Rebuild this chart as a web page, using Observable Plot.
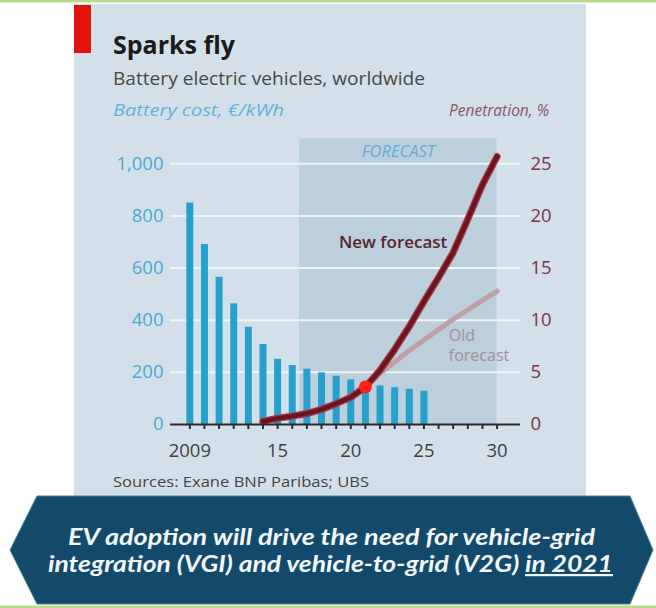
<!DOCTYPE html>
<html><head><meta charset="utf-8">
<script src="https://cdn.jsdelivr.net/npm/d3@7"></script>
<script src="https://cdn.jsdelivr.net/npm/@observablehq/plot@0.6"></script>
<style>
html,body{margin:0;padding:0;background:#fff;}
#page{position:relative;width:656px;height:608px;overflow:hidden;font-family:"Open Sans",sans-serif;}
#deco,#banner{position:absolute;left:0;top:0;}
#chart{position:absolute;left:74px;top:130px;}
</style></head>
<body><div id="page">
<svg id="deco" width="656" height="608" font-family="Open Sans">
  <rect x="0" y="0" width="656" height="2.5" fill="#b9d98f"/>
  <rect x="74" y="4" width="512" height="500" fill="#d3e0e9"/>
  <rect x="74" y="5" width="17" height="48" fill="#e3120b"/>
  <text x="113" y="54.3" font-size="24.5" font-weight="700" fill="#1b1b1b" textLength="122" lengthAdjust="spacingAndGlyphs">Sparks fly</text>
  <text x="113" y="85" font-size="18.5" font-weight="500" fill="#484848" textLength="312" lengthAdjust="spacingAndGlyphs">Battery electric vehicles, worldwide</text>
  <text x="113" y="115.5" font-size="15.5" font-style="italic" fill="#62b1d8" textLength="171" lengthAdjust="spacingAndGlyphs">Battery cost, €/kWh</text>
  <text x="549" y="115.5" font-size="15.5" font-style="italic" fill="#8b5466" text-anchor="end">Penetration, %</text>
  <text x="113" y="487" font-size="14.5" font-weight="500" fill="#444" textLength="256" lengthAdjust="spacingAndGlyphs">Sources: Exane BNP Paribas; UBS</text>
</svg>
<div id="chart"></div>
<svg id="banner" width="656" height="608" font-family="Lato">
  <polygon points="10,550 37,496 630,496 653,550 630,604 37,604" fill="#134a6c" stroke="#4f7d8f" stroke-width="1"/>
  <rect x="0" y="605.5" width="656" height="2.5" fill="#b9d98f"/>
  <text x="331.5" y="545" font-size="22" font-weight="700" font-style="italic" fill="#f3f7fa" text-anchor="middle" textLength="527" lengthAdjust="spacingAndGlyphs">EV adoption will drive the need for vehicle-grid</text>
  <text x="330.5" y="572" font-size="22" font-weight="700" font-style="italic" fill="#f3f7fa" text-anchor="middle" textLength="565" lengthAdjust="spacingAndGlyphs">integration (VGI) and vehicle-to-grid (V2G) <tspan text-decoration="underline">in 2021</tspan></text>
</svg>
</div>
<script>
// Battery cost, €/kWh (bars)
const years = [2009,2010,2011,2012,2013,2014,2015,2016,2017,2018,2019,2020,2021,2022,2023,2024,2025];
const batteryCost = [850,690,565,463,373,307,250,226,212,198,185,171,160,148,141,135,128];
// Penetration, % — new forecast
const newYears = [2014,2015,2016,2017,2018,2019,2020,2021,2022,2023,2024,2025,2026,2027,2028,2029,2030];
const newForecast = [0.3,0.6,0.8,1.05,1.45,2.0,2.6,3.6,5.2,7.2,9.4,11.8,14.1,16.5,19.7,23.0,25.7];
// Penetration, % — old forecast
const oldYears = [2021,2022,2023,2024,2025,2026,2027,2028,2029,2030];
const oldForecast = [3.6,4.9,6.0,7.1,8.1,9.1,10.1,11.0,11.9,12.8];
// Forecast period
const forecastStart = 2016.5, forecastEnd = 2030;
const highlightYear = 2021;
// Ticks
const costTicks = [0,200,400,600,800,1000];
const penTicks = [0,5,10,15,20,25];
const yearTicks = [2009,2010,2011,2012,2013,2014,2015,2016,2017,2018,2019,2020,2021,2022,2023,2024,2025,2026,2027,2028,2029,2030];
const xTickLabels = [2009,2015,2020,2025,2030];

const penToCost = 1000 / 25; // right axis 25% aligns with left axis 1,000

const costData = years.map((year, i) => ({year, cost: batteryCost[i]}));
const newData = newYears.map((year, i) => ({year, pen: newForecast[i]}));
const oldData = oldYears.map((year, i) => ({year, pen: oldForecast[i]}));
const dotData = [{year: highlightYear, pen: newForecast[newYears.indexOf(highlightYear)]}];

const chart = Plot.plot({
  width: 512,
  height: 340,
  marginLeft: 96,
  marginRight: 66,
  marginTop: 33.3,
  marginBottom: 46,
  x: {domain: [2007.68, 2031.6]},
  y: {domain: [0, 1000]},
  style: {background: "transparent", overflow: "visible", fontFamily: "Open Sans"},
  marks: [
    Plot.rect([{start: forecastStart, end: forecastEnd}], {x1: "start", x2: "end", y1: 0, y2: 1000, insetTop: -25, fill: "#bccfdc"}),
    Plot.text(["FORECAST"], {x: (forecastStart + forecastEnd) / 2, y: 1000, dy: -12, text: d => d, fontStyle: "italic", fontSize: 16.5, fill: "#63acd6"}),
    Plot.ruleY(costTicks.filter(d => d > 0), {stroke: "#eef4f8", strokeWidth: 2}),
    Plot.ruleX(costData, {x: "year", y1: 0, y2: "cost", stroke: "#27a0cc", strokeWidth: 7}),
    Plot.line(oldData, {x: "year", y: d => d.pen * penToCost, stroke: "#bf9fa6", strokeWidth: 5}),
    Plot.line(newData, {x: "year", y: d => d.pen * penToCost, stroke: "#a3323f", strokeWidth: 7, strokeLinejoin: "round", strokeLinecap: "round"}),
    Plot.line(newData, {x: "year", y: d => d.pen * penToCost, stroke: "#6c1522", strokeWidth: 4.2, strokeLinejoin: "round", strokeLinecap: "round"}),
    Plot.dot(dotData, {x: "year", y: d => d.pen * penToCost, r: 6.5, fill: "#ff1f1f"}),
    Plot.text(["New forecast"], {x: 2026.6, y: 17.45 * penToCost, text: d => d, textAnchor: "end", fontSize: 17, fontWeight: 600, fill: "#5a2330"}),
    Plot.text(["Old"], {x: 2026.7, y: 8.5 * penToCost, text: d => d, textAnchor: "start", fontSize: 16, fill: "#a38e99"}),
    Plot.text(["forecast"], {x: 2026.7, y: 6.6 * penToCost, text: d => d, textAnchor: "start", fontSize: 16, fill: "#a38e99"}),
    Plot.ruleY([0], {stroke: "#2a2a2a", strokeWidth: 2}),
    Plot.axisX(yearTicks, {tickSize: 5, tickFormat: () => "", stroke: "#2a2a2a", strokeWidth: 2, label: null}),
    Plot.axisX(xTickLabels, {tickSize: 0, tickPadding: 19, tickFormat: d => d === 2009 ? "2009" : String(d % 100), fontSize: 18.5, fontWeight: 500, fill: "#3f3f3f", label: null}),
    Plot.axisY(costTicks, {anchor: "left", tickSize: 0, tickPadding: 7, tickFormat: d3.format(","), fontSize: 18.5, fontWeight: 500, fill: "#4aa8d1", label: null}),
    Plot.axisY(penTicks.map(d => d * penToCost), {anchor: "right", tickSize: 0, tickPadding: 10, tickFormat: d => d / penToCost, fontSize: 18.5, fontWeight: 500, fill: "#7c3448", label: null})
  ]
});
document.getElementById("chart").appendChild(chart);
</script>
</body></html>
